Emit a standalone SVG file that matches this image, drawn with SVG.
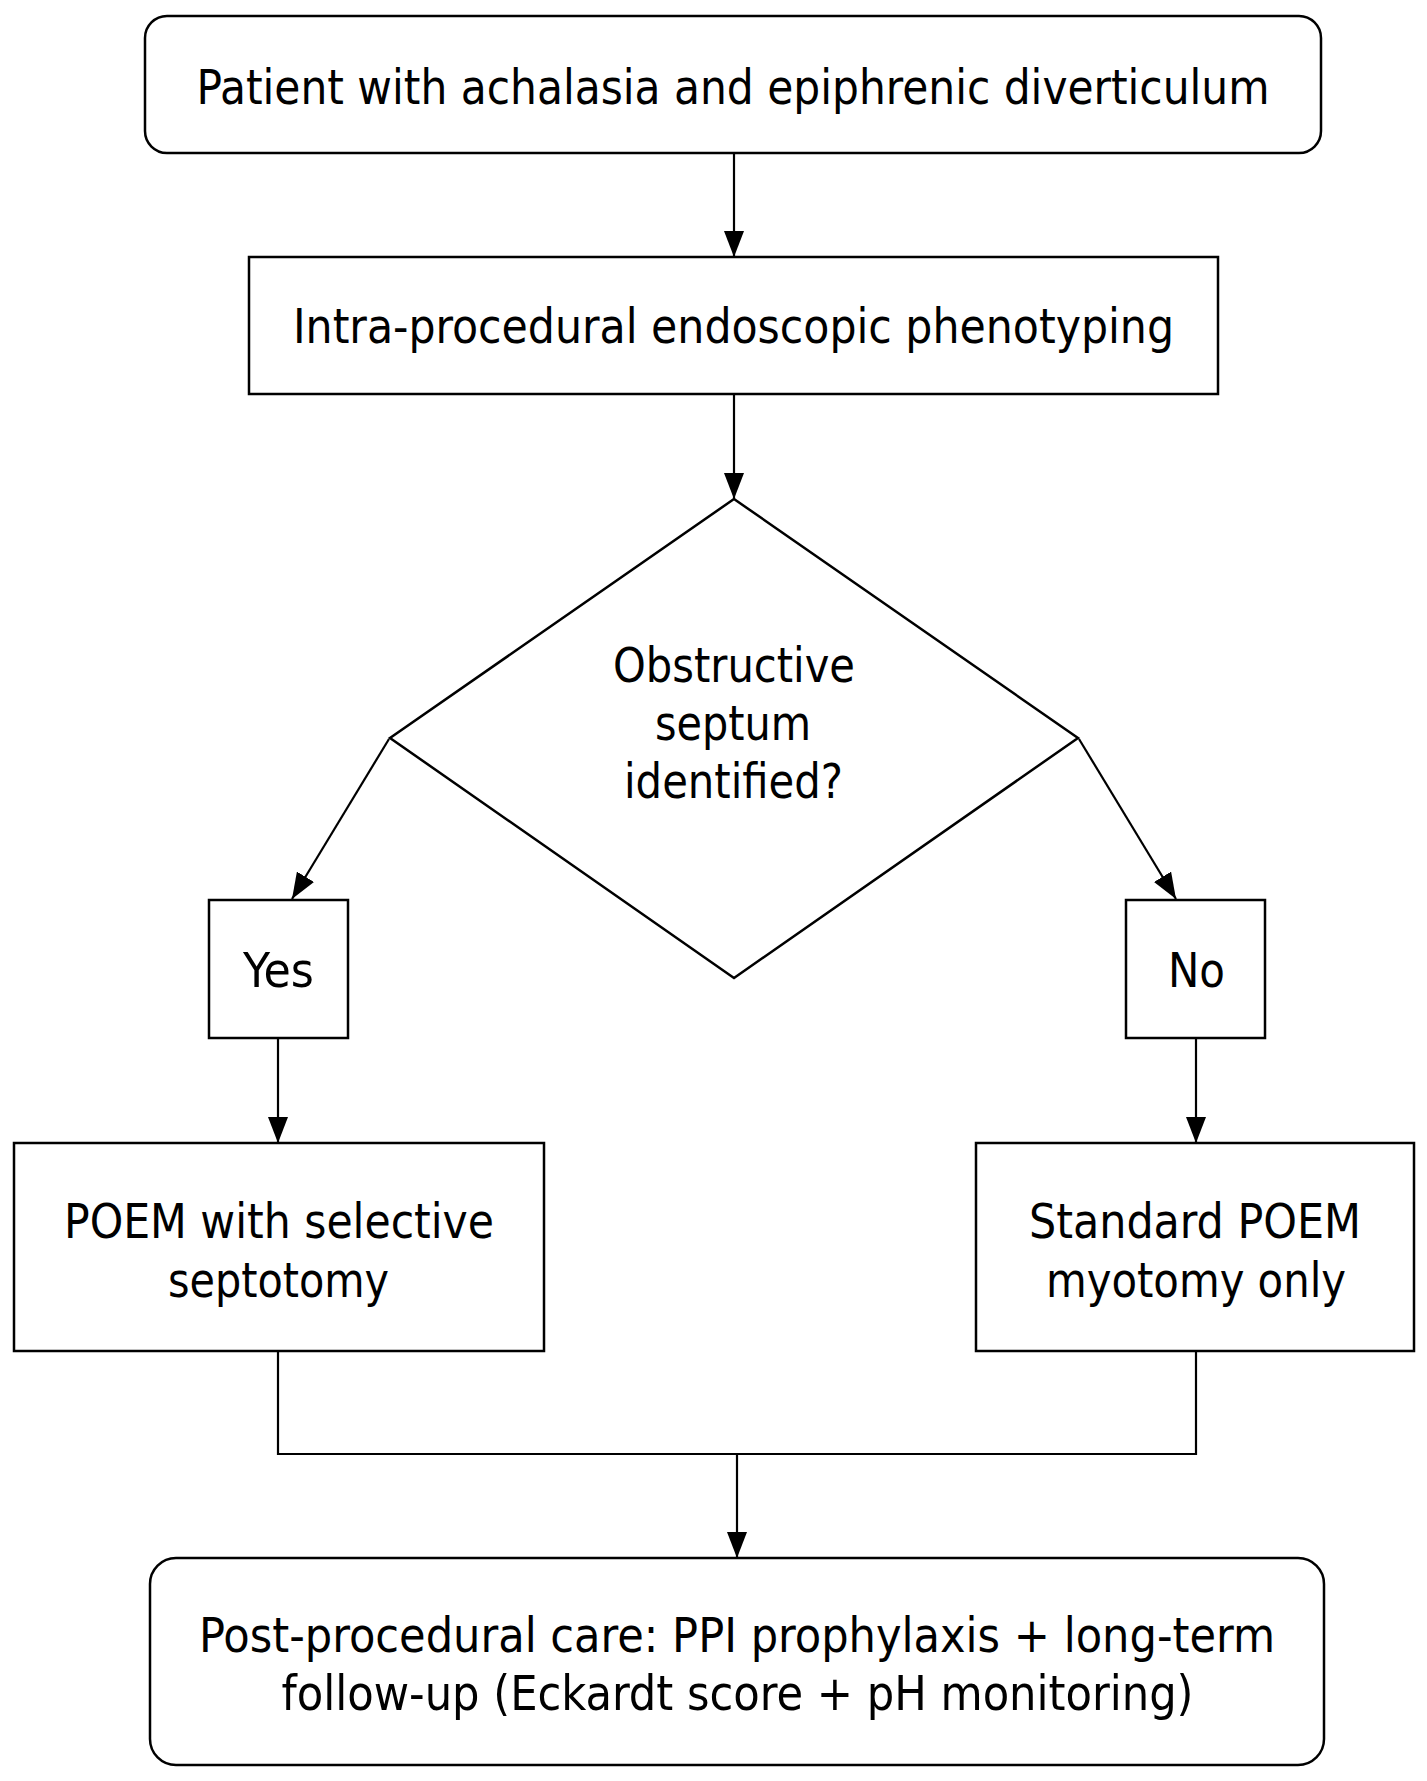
<svg xmlns="http://www.w3.org/2000/svg" width="1427" height="1781" viewBox="0 0 1427 1781">
<style>
.box{fill:#fff;stroke:#000;stroke-width:2.5}
.t{font-family:"DejaVu Sans Condensed","DejaVu Sans",sans-serif;font-size:48px;fill:#000;text-anchor:middle}
.c{fill:none;stroke:#000;stroke-width:2.2}
</style>
<defs>
<marker id="ah" markerUnits="userSpaceOnUse" markerWidth="20" markerHeight="26" viewBox="0 0 20 26" refX="10" refY="26" orient="auto-start-reverse">
<path d="M0,0 L20,0 L10,26 Z" fill="#000" transform="rotate(0)"/>
</marker>
<marker id="arr" markerUnits="userSpaceOnUse" markerWidth="26" markerHeight="20" viewBox="0 0 26 20" refX="26" refY="10" orient="auto">
<path d="M0,0 L26,10 L0,20 Z" fill="#000"/>
</marker>
</defs>
<rect width="1427" height="1781" fill="#fff"/>
<g id="connectors">
<line class="c" x1="734" y1="153" x2="734" y2="257" marker-end="url(#arr)"/>
<line class="c" x1="734" y1="394" x2="734" y2="499" marker-end="url(#arr)"/>
<line class="c" x1="389" y1="739" x2="292" y2="899" marker-end="url(#arr)"/>
<line class="c" x1="1079" y1="739" x2="1176" y2="899" marker-end="url(#arr)"/>
<line class="c" x1="278" y1="1038" x2="278" y2="1143" marker-end="url(#arr)"/>
<line class="c" x1="1196" y1="1038" x2="1196" y2="1143" marker-end="url(#arr)"/>
<polyline class="c" points="278,1351 278,1454 1196,1454 1196,1351"/>
<line class="c" x1="737" y1="1454" x2="737" y2="1558" marker-end="url(#arr)"/>
</g>
<g id="start">
<rect class="box" x="145" y="16" width="1176" height="137" rx="22"/>
<text class="t" x="733" y="104" textLength="1073" lengthAdjust="spacingAndGlyphs">Patient with achalasia and epiphrenic diverticulum</text>
</g>
<g id="phenotyping">
<rect class="box" x="249" y="257" width="969" height="137"/>
<text class="t" x="733.5" y="343" textLength="881" lengthAdjust="spacingAndGlyphs">Intra-procedural endoscopic phenotyping</text>
</g>
<g id="decision">
<polygon class="box" points="734,499 1078,738 734,978 390,738"/>
<text class="t" x="734" y="682" textLength="242" lengthAdjust="spacingAndGlyphs">Obstructive</text>
<text class="t" x="733" y="740" textLength="156" lengthAdjust="spacingAndGlyphs">septum</text>
<text class="t" x="733.5" y="798" textLength="219" lengthAdjust="spacingAndGlyphs">identified?</text>
</g>
<g id="yes">
<rect class="box" x="209" y="900" width="139" height="138"/>
<text class="t" x="278.5" y="987" textLength="71" lengthAdjust="spacingAndGlyphs">Yes</text>
</g>
<g id="no">
<rect class="box" x="1126" y="900" width="139" height="138"/>
<text class="t" x="1196.5" y="987" textLength="57" lengthAdjust="spacingAndGlyphs">No</text>
</g>
<g id="poem-septotomy">
<rect class="box" x="14" y="1143" width="530" height="208"/>
<text class="t" x="279" y="1238" textLength="430" lengthAdjust="spacingAndGlyphs">POEM with selective</text>
<text class="t" x="278.5" y="1297" textLength="221" lengthAdjust="spacingAndGlyphs">septotomy</text>
</g>
<g id="standard-poem">
<rect class="box" x="976" y="1143" width="438" height="208"/>
<text class="t" x="1195" y="1238" textLength="332" lengthAdjust="spacingAndGlyphs">Standard POEM</text>
<text class="t" x="1196" y="1297" textLength="300" lengthAdjust="spacingAndGlyphs">myotomy only</text>
</g>
<g id="post-care">
<rect class="box" x="150" y="1558" width="1174" height="207" rx="26"/>
<text class="t" x="737" y="1652" textLength="1076" lengthAdjust="spacingAndGlyphs">Post-procedural care: PPI prophylaxis + long-term</text>
<text class="t" x="737.5" y="1710" textLength="912" lengthAdjust="spacingAndGlyphs">follow-up (Eckardt score + pH monitoring)</text>
</g>
</svg>
